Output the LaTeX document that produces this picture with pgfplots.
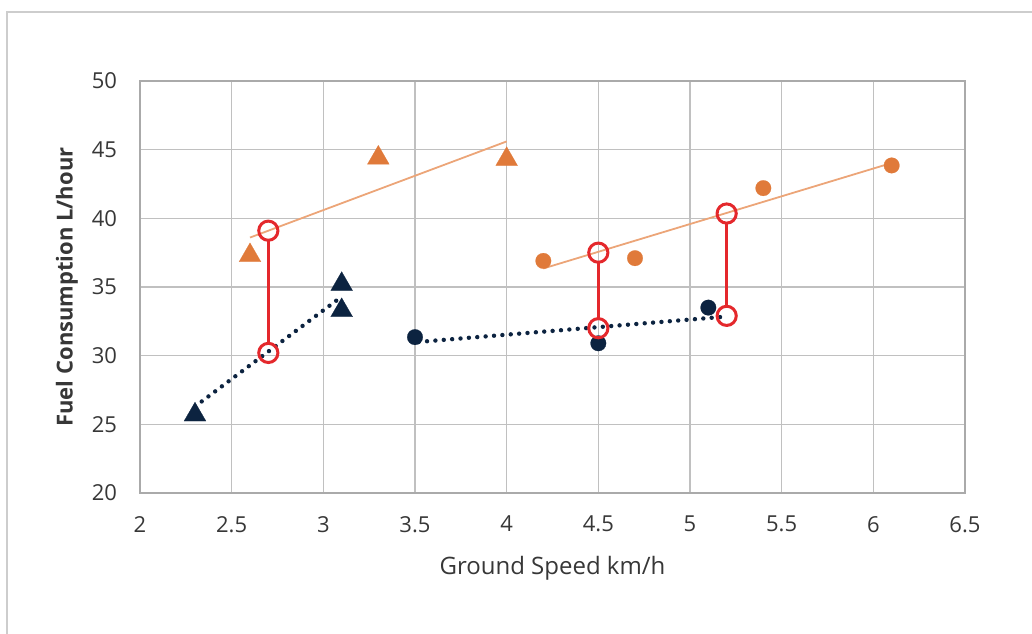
\documentclass[border=0pt]{standalone}
\usepackage{pgfplots}
\pgfplotsset{compat=1.18}
\usepackage{fontspec}
\setmainfont{Open Sans}
\definecolor{orng}{RGB}{224,122,58}
\definecolor{orngline}{RGB}{236,165,120}
\definecolor{navy}{RGB}{12,35,64}
\definecolor{redc}{RGB}{228,40,44}
\definecolor{gridc}{RGB}{192,192,192}
\definecolor{axc}{RGB}{170,170,170}
\definecolor{txt}{RGB}{55,55,55}
\definecolor{framec}{RGB}{205,205,205}
\begin{document}
\begin{tikzpicture}
\useasboundingbox (-70pt,-70pt) rectangle (446pt,246.5pt);
\draw[framec, line width=1pt] (-66.7pt,-75pt) -- (-66.7pt,240.6pt) -- (450pt,240.6pt);
\begin{axis}[
  at={(0,0)}, anchor=south west,
  scale only axis, width=412.5pt, height=206pt,
  xmin=2, xmax=6.5, ymin=20, ymax=50,
  xtick={2,2.5,...,6.5}, ytick={20,25,...,50},
  xticklabels={2,2.5,3,3.5,4,4.5,5,5.5,6,6.5},
  grid=major,
  grid style={gridc, line width=0.8pt},
  major tick length=0pt,
  axis line style={axc, line width=1pt},
  tick label style={font=\fontsize{11}{13}\selectfont, text=txt},
  /pgf/number format/assume math mode=true,
  xticklabel style={yshift=-8pt},
  yticklabel style={xshift=-8pt},
  xlabel={Ground Speed km/h},
  ylabel={\bfseries Fuel Consumption L/hour},
  xlabel style={at={(axis description cs:0.5,0)}, anchor=north, yshift=-28pt, font=\fontsize{12}{14}\selectfont, text=txt},
  ylabel style={at={(axis description cs:-0.0885,0.5)}, anchor=center, font=\fontsize{11}{13}\selectfont, text=txt},
  clip=false,
]
% trend lines
\addplot[orngline, line width=0.9pt] coordinates {(2.6,38.6) (4.0,45.6)};
\addplot[orngline, line width=0.9pt] coordinates {(4.2,36.35) (6.08,43.95)};
\addplot[navy, line width=2.2pt, line cap=round, dash pattern=on 0pt off 4.2pt] coordinates {(2.3,26.3) (3.08,34.1)};
\addplot[navy, line width=2.2pt, line cap=round, dash pattern=on 0pt off 4.2pt] coordinates {(3.52,31.0) (5.2,32.85)};
% markers
\addplot[only marks, mark=triangle*, mark size=6.3pt, mark options={fill=orng, draw=orng, line width=0.1pt}] coordinates {(2.6,37.3) (3.3,44.4) (4.0,44.3)};
\addplot[only marks, mark=triangle*, mark size=6.3pt, mark options={fill=navy, draw=navy, line width=0.1pt}] coordinates {(2.3,25.7) (3.1,35.2) (3.1,33.3)};
\addplot[only marks, mark=*, mark size=3.9pt, mark options={fill=orng, draw=orng, line width=0.1pt}] coordinates {(4.2,36.9) (4.7,37.1) (5.4,42.2) (6.1,43.85)};
\addplot[only marks, mark=*, mark size=3.9pt, mark options={fill=navy, draw=navy, line width=0.1pt}] coordinates {(3.5,31.35) (4.5,30.9) (5.1,33.5)};
% red connectors
\addplot[redc, line width=1.3pt, shorten >=4.8pt, shorten <=4.8pt] coordinates {(2.7,39.1) (2.7,30.2)};
\addplot[redc, line width=1.3pt, shorten >=4.8pt, shorten <=4.8pt] coordinates {(4.5,37.5) (4.5,32.0)};
\addplot[redc, line width=1.3pt, shorten >=4.8pt, shorten <=4.8pt] coordinates {(5.2,40.35) (5.2,32.9)};
\addplot[only marks, mark=o, mark size=4.8pt, mark options={draw=redc, line width=1.5pt}] coordinates {(2.7,39.1) (2.7,30.2) (4.5,37.5) (4.5,32.0) (5.2,40.35) (5.2,32.9)};
\end{axis}
\end{tikzpicture}
\end{document}
